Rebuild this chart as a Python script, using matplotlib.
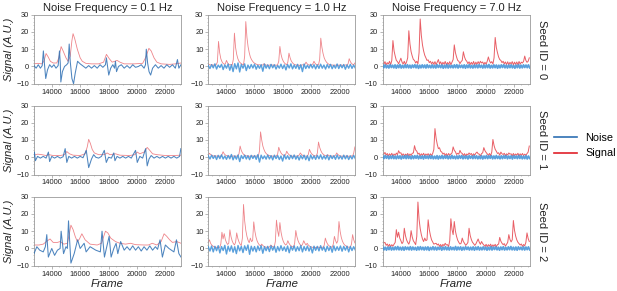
import numpy as np
import matplotlib
matplotlib.use("Agg")
import matplotlib.pyplot as plt
from matplotlib.lines import Line2D
from matplotlib.ticker import MultipleLocator

plt.rcParams['font.family'] = ['Liberation Sans', 'DejaVu Sans']

FREQ_TITLES = ["Noise Frequency = 0.1 Hz", "Noise Frequency = 1.0 Hz", "Noise Frequency = 7.0 Hz"]
SEED_LABELS = ["Seed ID = 0", "Seed ID = 1", "Seed ID = 2"]
SERIES = ["Noise", "Signal"]
X_TICKS = [14000, 16000, 18000, 20000, 22000]
Y_TICKS = [-10, 0, 10, 20, 30]
FRAME_RANGE = (12750, 23100)

# ---- 0.1 Hz column: (frame, value) vertices ----
SIG_C1_R0 = [(12750,1.5),(13000,1.8),(13300,1.5),(13450,3),(13600,7.5),(13750,5.5),(13900,3),(14100,2),(14350,2),(14500,5),(14660,11.5),(14800,9),(15000,5),(15150,3),(15300,6),(15420,15),(15500,19),(15620,16),(15800,10),(16000,5),(16150,3),(16400,1.8),(16800,1.5),(17300,1.5),(17650,2.5),(17850,7),(18050,4.5),(18250,2.5),(18450,3),(18600,3.5),(18800,2.5),(19100,1.5),(19800,1.5),(20400,1.8),(20600,5),(20840,10.5),(21000,9),(21200,5),(21400,2.5),(21700,1.5),(22300,1.2),(22700,1.5),(23100,2)]
NOISE_C1_R0 = [(12750,0.5),(12900,-1),(13050,1),(13200,-1),(13330,0.5),(13410,9),(13480,2),(13576,-7),(13700,-2),(13850,1),(14000,-0.5),(14150,1),(14300,-1),(14450,0.5),(14544,9),(14600,2),(14640,-9),(14750,-3),(14900,0),(15050,1),(15150,2),(15228,13),(15300,3),(15420,-7),(15535,-10),(15650,-4),(15818,3),(16000,1.5),(16243,0),(16400,-1),(16600,0.5),(16800,-1),(17000,0.5),(17200,-1),(17400,1),(17600,-0.5),(17780,1),(17848,5),(17930,0),(18013,-5),(18150,-1),(18300,1),(18420,-1),(18485,3),(18560,-3),(18700,0),(18900,1),(19100,-1),(19300,0.5),(19500,-1),(19700,1),(19900,-0.5),(20100,0),(20300,1),(20500,-1),(20600,1),(20656,10),(20750,2),(20850,-3),(20963,-5),(21100,-1),(21300,1),(21500,-1),(21700,0.5),(21900,-1),(22100,1),(22300,-0.5),(22500,1),(22700,-1),(22850,4),(22950,-1),(23100,1)]
SIG_C1_R1 = [(12750,1.2),(13000,1.8),(13300,1.5),(13600,1),(13800,1.5),(14100,1),(14600,1),(14900,1.5),(15060,3.3),(15250,2),(15500,1.2),(16000,1),(16350,2),(16500,6),(16600,10.4),(16720,8),(16850,4.5),(17000,2.5),(17300,1.5),(17700,1.5),(17900,2.5),(18100,1.5),(18490,2),(18800,1.2),(19500,1),(19850,1.5),(20020,3),(20200,2),(20500,3),(20720,5.7),(20900,4),(21100,2),(21400,1.5),(22000,1),(22600,1),(23100,1.2)]
NOISE_C1_R1 = [(12750,0.5),(12780,3),(12850,-2),(13000,0.5),(13200,-0.5),(13400,0.5),(13600,-0.5),(13765,3),(13850,-2.5),(14000,0.5),(14200,-0.5),(14400,0.5),(14600,-0.5),(14800,0.3),(14945,5),(15060,-3),(15200,0.5),(15400,-0.5),(15600,0.5),(15800,-0.5),(16000,0.5),(16200,-0.3),(16430,4),(16600,-6),(16800,-1),(16950,1.5),(17100,0),(17300,-0.5),(17500,0.5),(17700,4),(17840,-3),(18000,0),(18200,-0.5),(18370,2.5),(18450,-2),(18600,0.5),(18800,-0.5),(19000,0.5),(19200,-0.5),(19400,0.5),(19600,-0.5),(19900,4),(20020,-3),(20200,0.5),(20400,-0.5),(20610,5),(20720,-5),(20850,-1),(21000,1),(21200,-0.5),(21400,0.5),(21600,-0.5),(21800,0.5),(22000,-0.5),(22200,0.5),(22400,-0.5),(22600,0.5),(22800,-0.5),(23000,0.5),(23090,5)]
SIG_C1_R2 = [(12750,2),(13100,2),(13400,2.5),(13700,4.5),(13880,5.5),(14100,3.5),(14400,3.5),(14590,4),(14850,2.5),(15100,3),(15250,9),(15350,13.5),(15500,11),(15650,7),(15800,4),(15950,5.5),(16120,8.5),(16350,5),(16700,2.5),(17200,2),(17500,3),(17780,10),(17950,9),(18150,6),(18485,4),(18800,3),(19200,2.5),(19550,3),(19900,2.2),(20500,2),(20800,2),(21080,3),(21400,2),(21700,4),(21910,8.5),(22100,7),(22300,5),(22500,3.5),(22800,4),(23100,3)]
NOISE_C1_R2 = [(12750,-3),(12950,1),(13150,-1),(13400,-2),(13550,1),(13650,8),(13760,-5),(14000,0),(14200,-4),(14400,-1),(14590,0),(14660,10),(14830,-3),(15000,1),(15100,0),(15180,16),(15350,-8.5),(15580,-3),(15820,5),(16000,0),(16280,3),(16420,-2),(16700,1),(17100,-1),(17420,-2),(17540,10),(17710,-5),(17900,2),(18040,7),(18180,-5),(18370,0),(18530,3),(18650,-3),(18850,4),(19100,-1),(19300,1),(19500,-1),(19700,1.5),(19900,-1),(20100,1),(20300,-1.5),(20500,1),(20700,-1),(20900,1.5),(21100,-1),(21300,1),(21450,-0.5),(21625,5),(21790,-5),(22000,2),(22250,0),(22600,-2),(22780,5),(22950,-3),(23100,-5)]

# ---- 1.0 Hz and 7.0 Hz columns: values sampled evenly across the frame range ----
SIG_C2_R0 = [1.5,1.0,0.8,1.2,0.6,0.9,0.7,1.1,2.5,14.5,8,4.5,2.8,1.8,1.3,1.5,3.5,2,1.2,0.9,1.1,0.8,4,19.3,11,7,4.5,3,2.2,1.6,1.2,1.0,6,26,17,11.5,8,5.5,4,3,2.2,1.8,1.4,1.1,0.9,1.0,0.7,0.9,0.8,1.6,1.0,0.7,0.9,0.6,0.8,1.0,0.7,0.9,0.6,0.8,0.7,1.0,3,11.6,7,4.5,3,2,1.4,1.0,2.5,7.7,5,3.2,2.2,1.5,1.1,0.9,0.7,0.9,0.6,0.8,0.7,1.0,0.8,1.2,2.5,1.5,1.0,0.8,0.7,0.9,1.5,3,1.8,1.1,0.8,1.0,4,16.4,11,7.5,5,3.5,2.5,1.8,1.3,1.0,0.8,0.9,0.6,0.8,0.7,0.9,0.6,0.8,0.7,0.9,0.6,0.8,0.7,0.9,0.8,1.5,4.5,2.8,1.8,1.2,1.0,2.0]
SIG_C3_R0 = [2.5,1.2,2.8,0.9,2.2,1.4,3.0,1.0,3.5,15,9,6,3.5,2.8,1.5,3.2,4.8,2.5,1.4,3.0,1.2,2.6,5,20.7,13,8.5,6,4,3.5,2,3,1.5,8,27.5,18,12.5,9,6.5,5,3.5,3.8,2.2,3,1.5,2.6,1.2,2.8,1.0,2.5,4,1.5,2.7,1.0,2.4,1.3,2.9,0.9,2.3,1.2,2.8,1.0,2.5,4,12.5,8,5.5,3.5,3,1.6,2.8,3.5,8.5,5.5,3.8,3.0,1.6,2.7,1.1,2.4,1.2,2.9,0.9,2.5,1.3,2.8,1.5,3,2.0,2.6,1.1,2.4,1.3,3.0,5.5,3.2,2.0,2.8,1.4,5,16.8,11,8,5.5,4,3.5,2.2,3.0,1.5,2.6,1.1,2.7,1.0,2.4,1.4,2.8,0.9,2.5,1.2,2.6,1.0,2.9,1.3,2.5,2.0,3.0,6,3.5,2.4,3.0,5]
SIG_C2_R1 = [1.2,2.3,1.6,1.2,0.9,0.7,0.9,0.6,0.8,0.5,0.7,0.6,1.5,3.2,2.0,1.3,0.9,0.7,0.8,0.5,0.7,0.6,0.8,0.5,0.7,0.6,0.8,2,6.5,4,2.6,1.7,1.2,0.9,0.7,0.8,0.5,0.7,0.6,0.8,0.5,0.7,0.6,0.8,0.6,3.5,14.7,10,6.5,4.5,3,2.1,1.5,1.1,0.9,0.7,0.8,0.5,0.7,0.6,0.8,1.8,5.8,3.8,2.5,1.7,1.2,0.9,1.4,3.5,2.3,1.5,1.0,0.8,0.6,0.7,0.5,0.7,0.6,0.8,1.3,2.5,1.6,1.1,0.8,0.6,0.7,0.5,1.6,4.6,3.0,2.0,1.4,1.0,0.8,0.7,2.5,8.8,5.8,3.9,2.6,1.8,1.3,0.9,0.8,1.5,1.0,0.7,0.6,0.8,0.5,0.7,1.2,2.5,1.6,1.1,0.8,0.6,0.7,0.5,0.7,0.6,0.8,0.5,0.7,0.6,0.8,0.6,2.5,6]
SIG_C3_R1 = [2.5,1.8,2.8,1.2,2.2,0.8,2.0,1.0,2.3,0.7,1.9,1.1,2.4,1.5,3.8,2.4,2.6,1.0,2.0,0.7,1.8,1.1,2.2,0.8,1.9,1.0,2.3,2.5,6.7,4.2,3.5,1.8,2.4,0.9,2.0,1.1,2.3,0.8,1.9,1.2,2.1,0.7,2.0,1.0,2.2,4.5,16.6,11,7.5,5,5.5,3.5,3.0,1.8,2.4,1.0,2.1,0.8,2.2,1.1,1.9,2.5,6,4,3.2,1.6,2.3,1.8,4,2.6,2.2,1.0,2.1,0.8,1.9,1.4,2.5,1.6,2.2,0.9,2.0,1.2,2.4,3.0,2.0,1.8,0.8,2.1,2.6,5.6,3.8,2.8,2.0,1.1,2.2,0.9,3.0,10.3,6.8,4.6,3.5,2.2,2.6,1.2,3.0,2.0,1.6,2.3,0.9,2.0,1.3,2.5,1.8,2.0,0.8,2.2,1.0,1.9,1.2,2.3,0.8,2.0,1.1,2.2,0.9,1.8,1.2,2.1,3.0,6.5]
SIG_C2_R2 = [3.5,5,3,2,1.4,1.0,0.8,0.6,0.8,0.5,0.7,2.5,9.4,5.5,8.6,5.2,3.4,2.3,3.0,10.8,6.8,4.4,2.9,2.0,3.5,9,5.8,3.8,2.5,1.7,6,25.5,16,10.5,7,4.7,3.3,6,4,4.5,15.4,10,6.5,4.3,2.9,2.0,1.6,2.5,1.7,1.2,0.9,0.7,0.8,0.6,1.0,2.0,1.3,0.9,0.7,4,16.4,10.5,7,15,9.5,6.2,4.1,2.8,2.0,2.5,4.5,3.0,2.0,1.4,1.0,0.8,3,10.4,6.8,4.5,3.0,2.1,1.5,2.5,4.5,3.0,2.0,3.0,2.0,1.4,1.0,0.8,0.6,0.8,0.5,0.7,0.6,0.8,0.5,0.7,0.6,0.8,1.8,6,3.8,2.5,1.7,1.2,0.9,0.7,2.5,7,4.5,3.0,4.5,15.6,10,6.5,4.3,2.9,2.0,1.5,1.1,0.8,0.7,0.8,2.5,8,5,3.2]
SIG_C3_R2 = [4.5,3.2,3.5,1.8,2.6,1.2,2.4,1.0,2.2,1.3,2.5,3.5,10.9,6.5,9.4,6.0,4.5,2.8,3.8,11.7,7.5,5.0,3.5,2.5,4.5,10.3,6.6,4.4,3.4,2.2,7,26.9,17,11.5,8,5.5,4.0,6,4.5,5,16.6,11,7.5,5,3.8,2.5,2.8,3,2.0,2.6,1.2,2.3,1.0,2.4,1.5,3,2.0,2.2,1.1,4.5,17.2,11,8,15.6,10,7,4.8,3.5,2.6,3.0,6,4,3.0,1.8,2.5,3.5,11.7,7.5,5.2,3.6,2.8,1.8,2.6,4,5.5,3.6,2.4,4,2.8,2.0,1.2,2.4,1.0,2.2,1.3,2.5,0.9,2.1,1.2,2.4,1.0,2.2,2.5,6.4,4.2,3.0,2.2,2.8,1.3,2.4,3.5,8,5.2,3.8,5,16.2,10.5,7.2,5,3.6,2.8,2.0,2.6,1.2,2.3,1.5,3.5,9,5.8,4]

NOISE_C2_R0 = [0.5,-1.2,1.0,-0.8,1.5,-1.5,0.8,-0.6,1.2,-1.8,0.9,-1.0,1.4,-2.2,1.0,-3.0,1.6,-1.4,2.0,-3.2,1.2,-1.0,1.5,-2.4,0.8,-1.2,1.1,-0.9,1.3,-1.6,0.7,-1.1,1.0,-2.8,1.4,-1.0,0.9,-1.3,1.2,-0.8,1.0,-1.5,0.6,-1.0,1.3,-1.2,0.9,-2.0,1.1,-0.9,1.5,-1.4,0.8,-1.1,1.2,-1.6,1.0,-3.0,1.4,-1.2,0.7,-1.0,1.2,-0.9,1.0,-1.4,0.9,-1.1,1.3,-1.0,0.8,-1.5,1.1,-0.9,1.2,-1.3,0.7,-1.0,1.4,-1.2,1.0,-0.8,1.1,-1.6,0.9,-1.0,1.2,-1.1,0.8,-0.9]
NOISE_C2_R1 = [0.8,-1.0,1.2,-0.7,0.9,-1.3,1.1,-0.8,1.4,-1.0,0.7,-1.2,1.0,-0.9,1.6,-1.5,0.8,-1.1,1.3,-2.5,1.0,-0.8,1.2,-1.0,0.9,-1.4,1.1,-0.7,1.0,-1.2,1.5,-2.8,1.2,-0.9,0.8,-1.1,1.3,-1.0,0.9,-1.5,1.2,-0.8,1.0,-1.3,0.7,-2.2,1.4,-1.0,0.9,-1.2,1.1,-0.8,1.3,-1.1,0.8,-1.6,1.0,-0.9,1.2,-1.4,0.9,-2.0,1.3,-1.0,0.8,-1.2,1.1,-0.9,1.4,-1.1,0.8,-1.0,1.2,-1.5,1.0,-0.8,0.9,-1.2,1.3,-1.0,0.7,-1.1,1.2,-0.9,1.0,-1.3,0.8,-1.0,1.1,-0.8]
NOISE_C2_R2 = [1.0,-1.5,1.4,-2.0,1.2,-1.3,1.6,-2.6,1.1,-1.2,1.8,-3.2,1.3,-1.6,1.5,-2.2,1.0,-3.0,1.7,-1.4,1.2,-2.4,1.5,-1.1,2.0,-3.4,1.3,-1.5,1.1,-2.0,1.4,-1.2,1.6,-2.8,1.0,-1.3,1.2,-1.8,1.5,-1.0,1.3,-2.2,1.1,-1.4,1.6,-1.2,0.9,-1.7,1.4,-2.5,1.2,-1.0,1.5,-1.6,1.0,-1.3,1.7,-2.0,1.1,-1.2,1.4,-1.5,1.0,-2.6,1.3,-1.1,1.2,-1.4,1.6,-1.0,0.9,-1.8,1.3,-1.2,1.1,-2.2,1.5,-1.3,1.0,-1.1,1.4,-1.6,1.2,-1.0,1.3,-2.0,1.1,-1.2,1.0,-0.9]
NOISE_C3_R0 = [0.8,-0.7,0.9,-0.8,0.6,-0.9,1.0,-0.6,0.7,-0.8,0.9,-1.0,0.8,-0.7,1.1,-0.9,0.6,-0.8,0.9,-0.7,1.0,-0.8,0.7,-0.9,0.8,-0.6,1.0,-0.8,0.9,-1.1,0.7,-0.8,0.9,-0.7,0.8,-0.9,1.0,-0.7,0.6,-0.8,0.9,-0.8,0.7,-0.9,1.0,-0.6,0.8,-0.7,0.9,-1.0,0.7,-0.8,1.1,-0.9,0.8,-0.7,0.6,-0.8,0.9,-0.7,1.0,-0.9,0.8,-0.6,0.7,-0.8,0.9,-1.0,0.8,-0.7,1.0,-0.8,0.6,-0.9,0.8,-0.7,0.9,-0.8,1.0,-0.6,0.7,-0.9,0.8,-0.8,0.9,-0.7,1.1,-0.9,0.6,-0.8,0.9,-0.7,0.8,-1.0,0.7,-0.8,0.9,-0.6,1.0,-0.8,0.7,-0.9,0.8,-0.7,0.9,-0.8,0.6,-1.0,0.8,-0.7,1.0,-0.9,0.7,-0.8,0.9,-0.6,0.8,-0.7,0.9,-0.8]
NOISE_C3_R1 = [0.7,-0.8,1.0,-0.6,0.8,-0.9,0.7,-0.7,1.0,-0.8,0.6,-0.9,0.9,-0.7,0.8,-1.0,0.7,-0.6,0.9,-0.8,1.1,-0.7,0.6,-0.9,0.8,-0.8,0.9,-0.6,1.0,-0.9,0.7,-0.7,0.8,-1.0,0.9,-0.6,0.7,-0.8,1.0,-0.7,0.8,-0.9,0.6,-0.8,0.9,-1.0,0.7,-0.7,1.0,-0.8,0.8,-0.6,0.9,-0.9,0.7,-0.8,1.1,-0.7,0.6,-0.9,0.8,-0.8,0.9,-0.6,1.0,-0.9,0.7,-0.7,0.8,-1.0,0.9,-0.6,0.7,-0.8,1.0,-0.7,0.8,-0.9,0.6,-0.8,0.9,-1.0,0.7,-0.7,1.0,-0.8,0.8,-0.6,0.9,-0.9,0.7,-0.8,1.0,-0.7,0.6,-0.9,0.8,-0.8,0.9,-0.6,1.0,-0.9,0.7,-0.7,0.8,-1.0,0.9,-0.6,0.7,-0.8,1.0,-0.7,0.8,-0.9,0.6,-0.8,0.9,-1.0,0.7,-0.7]
NOISE_C3_R2 = [0.9,-0.8,0.7,-1.0,0.8,-0.7,1.0,-0.9,0.6,-0.8,0.9,-0.7,1.1,-0.8,0.7,-0.9,0.8,-1.0,0.9,-0.6,0.7,-0.8,1.0,-0.9,0.8,-0.7,0.6,-1.0,0.9,-0.8,1.0,-0.7,0.7,-0.9,0.8,-0.8,0.9,-1.1,0.6,-0.7,1.0,-0.8,0.8,-0.9,0.7,-0.6,0.9,-1.0,0.8,-0.7,1.0,-0.8,0.7,-0.9,0.9,-0.7,0.6,-0.8,1.1,-0.9,0.8,-0.7,0.9,-1.0,0.7,-0.8,1.0,-0.6,0.8,-0.9,0.7,-0.8,0.9,-1.0,0.8,-0.7,1.0,-0.9,0.6,-0.8,0.9,-0.7,0.8,-1.0,0.7,-0.8,1.0,-0.9,0.8,-0.6,0.9,-0.8,0.7,-1.0,0.8,-0.7,1.0,-0.9,0.6,-0.8,0.9,-0.7,1.1,-0.8,0.7,-0.9,0.8,-1.0,0.9,-0.6,0.7,-0.8,1.0,-0.9,0.8,-0.7,0.9,-0.8]

SIGNALS = [[SIG_C1_R0, SIG_C2_R0, SIG_C3_R0],
           [SIG_C1_R1, SIG_C2_R1, SIG_C3_R1],
           [SIG_C1_R2, SIG_C2_R2, SIG_C3_R2]]
NOISES = [[NOISE_C1_R0, NOISE_C2_R0, NOISE_C3_R0],
          [NOISE_C1_R1, NOISE_C2_R1, NOISE_C3_R1],
          [NOISE_C1_R2, NOISE_C2_R2, NOISE_C3_R2]]

NOISE_COLOR = '#2e6fb3'
NOISE_COLOR_LIGHT = '#3d8fd6'
SIGNAL_COLOR = '#e0202a'
SPINE_COLOR = '#9a9a9a'
TEXT_COLOR = '#222222'

# per-column line styling (signal alpha, signal lw, noise colour, noise lw)
COL_STYLE = [(0.55, 0.6, NOISE_COLOR, 0.75),
             (0.55, 0.6, NOISE_COLOR_LIGHT, 1.0),
             (0.72, 0.7, NOISE_COLOR_LIGHT, 1.3)]


def to_xy(series):
    if isinstance(series[0], tuple):
        arr = np.array(series, dtype=float)
        return arr[:, 0], arr[:, 1]
    vals = np.array(series, dtype=float)
    if len(vals) == 130:
        frames = FRAME_RANGE[0] + 80 * np.arange(len(vals))
    else:
        frames = np.linspace(FRAME_RANGE[0], FRAME_RANGE[1], len(vals))
    return frames, vals


fig = plt.figure(figsize=(6.17, 2.91), dpi=100)
W, H = 617.0, 291.0
col_left = [34.0, 208.3, 382.7]
ax_w = 147.0
row_top = [14.7, 105.5, 196.7]
ax_h = 69.0

for r in range(3):
    for c in range(3):
        ax = fig.add_axes([col_left[c] / W, 1 - (row_top[r] + ax_h) / H, ax_w / W, ax_h / H])
        s_alpha, s_lw, n_col, n_lw = COL_STYLE[c]
        sx, sy = to_xy(SIGNALS[r][c])
        nx, ny = to_xy(NOISES[r][c])
        ax.plot(sx, sy, color=SIGNAL_COLOR, lw=s_lw, alpha=s_alpha, zorder=2)
        ax.plot(nx, ny, color=n_col, lw=n_lw, alpha=0.85, zorder=3)
        ax.set_xlim(*FRAME_RANGE)
        ax.set_ylim(-10, 30)
        ax.set_xticks(X_TICKS)
        ax.set_yticks(Y_TICKS)
        ax.xaxis.set_minor_locator(MultipleLocator(500))
        ax.yaxis.set_minor_locator(MultipleLocator(2))
        ax.tick_params(axis='both', which='major', labelsize=5.4, length=2, width=0.5,
                       color=SPINE_COLOR, labelcolor=TEXT_COLOR, pad=1.5)
        ax.tick_params(axis='both', which='minor', length=1, width=0.4, color=SPINE_COLOR)
        for sp in ax.spines.values():
            sp.set_color(SPINE_COLOR)
            sp.set_linewidth(0.6)
        if r == 0:
            ax.set_title(FREQ_TITLES[c], fontsize=8, pad=2.5, color=TEXT_COLOR)
        if c == 0:
            ax.set_ylabel("Signal (A.U.)", fontsize=8, style='italic', labelpad=1.5, color=TEXT_COLOR)
        if r == 2:
            ax.set_xlabel("Frame", fontsize=8.2, style='italic', labelpad=1, color=TEXT_COLOR)
        if c == 2:
            ax.text(1.05, 0.5, SEED_LABELS[r], rotation=270, transform=ax.transAxes,
                    ha='left', va='center', fontsize=8, color=TEXT_COLOR)

handles = [Line2D([], [], color=NOISE_COLOR, lw=1.2),
           Line2D([], [], color=SIGNAL_COLOR, lw=1.2)]
fig.legend(handles, SERIES, loc='center left', bbox_to_anchor=(554 / W, 0.5),
           frameon=False, fontsize=7.8, handlelength=2.1, handletextpad=0.8,
           borderpad=0, borderaxespad=0, labelspacing=0.55)

fig.savefig("out.png", dpi=100)
